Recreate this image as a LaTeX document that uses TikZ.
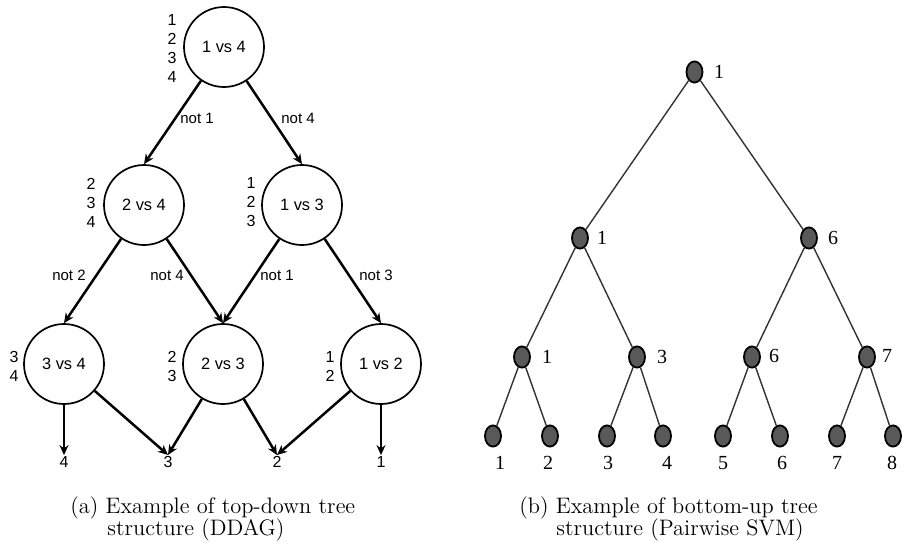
\documentclass[tikz,border=0pt]{standalone}
\usepackage{fontspec}
\newfontfamily\arialf{Liberation Sans}
\newfontfamily\timesf{Liberation Serif}
\usetikzlibrary{arrows.meta,shapes.geometric}
\begin{document}
\begin{tikzpicture}[x=0.5pt,y=-0.5pt,
  vs/.style={circle,draw,line width=0.85pt,minimum size=40pt,inner sep=0pt,font=\arialf\fontsize{8.2}{9.5}\selectfont},
  side/.style={align=center,inner sep=0pt,font=\arialf\fontsize{8}{9.5}\selectfont},
  edgelbl/.style={inner sep=0pt,font=\arialf\fontsize{7.5}{9}\selectfont},
  outn/.style={inner sep=0.5pt,font=\arialf\fontsize{8}{9}\selectfont},
  arr/.style={-{Stealth[length=5pt,width=4.5pt]},line width=1.25pt},
  dot/.style={ellipse,draw,line width=0.9pt,fill=black!65,minimum width=8pt,minimum height=10.6pt,inner sep=0pt},
  tlbl/.style={inner sep=0pt,font=\timesf\fontsize{10}{11}\selectfont},
  tedge/.style={line width=0.7pt,draw=black!80},
  captxt/.style={inner sep=0pt,anchor=west,font=\fontsize{11.2}{13}\selectfont}]
\useasboundingbox (0,0) rectangle (906,547);
% ---------- left: DDAG ----------
\node[vs] (t)  at (224,47)  {1 vs 4};
\node[vs] (m1) at (144,205) {2 vs 4};
\node[vs] (m2) at (302,205) {1 vs 3};
\node[vs] (b1) at (64,364)  {3 vs 4};
\node[vs] (b2) at (223,364) {2 vs 3};
\node[vs] (b3) at (381,364) {1 vs 2};
\node[side] (st)  at (172,48)    {1\\2\\3\\4};
\node[side] (sm1) at (91,202.5)  {2\\3\\4};
\node[side] (sm2) at (251,202.5) {1\\2\\3};
\node[side] (sb1) at (14,366.5)  {3\\4};
\node[side] (sb2) at (172,366.5) {2\\3};
\node[side] (sb3) at (330,366.5) {1\\2};
\node[outn] (o4) at (64,462)  {4};
\node[outn] (o3) at (168,462) {3};
\node[outn] (o2) at (277,462) {2};
\node[outn] (o1) at (381,462) {1};
\draw[arr] (t) -- (m1.north);
\draw[arr] (t) -- (m2.north);
\draw[arr] (m1) -- (b1.north);
\draw[arr] (m1) -- (b2.north);
\draw[arr] (m2) -- (b2.north);
\draw[arr] (m2) -- (b3.north);
\draw[arr] (b1) -- (o4.north);
\draw[arr] (b1) -- (o3.north);
\draw[arr] (b2) -- (o3.north);
\draw[arr] (b2) -- (o2.north);
\draw[arr] (b3) -- (o2.north);
\draw[arr] (b3) -- (o1.north);
\node[edgelbl] (l1) at (197,118) {not 1};
\node[edgelbl] (l2) at (298,118) {not 4};
\node[edgelbl] (l3) at (69,275)  {not 2};
\node[edgelbl] (l4) at (167,275) {not 4};
\node[edgelbl] (l5) at (277,275) {not 1};
\node[edgelbl] (l6) at (376,275) {not 3};
\node[captxt] (ca1) at (70,508)  {(a) Example of top-down tree};
\node[captxt] (ca2) at (107,530) {structure (DDAG)};
% ---------- right: pairwise tree ----------
\node[dot] (r)   at (694.5,72) {};
\node[dot] (a1)  at (580,238) {};
\node[dot] (a2)  at (809,238) {};
\node[dot] (c1)  at (522,357) {};
\node[dot] (c2)  at (637,357) {};
\node[dot] (c3)  at (752,357) {};
\node[dot] (c4)  at (867,357) {};
\node[dot] (d1)  at (493,436) {};
\node[dot] (d2)  at (550,436) {};
\node[dot] (d3)  at (607,436) {};
\node[dot] (d4)  at (663,436) {};
\node[dot] (d5)  at (723,436) {};
\node[dot] (d6)  at (780,436) {};
\node[dot] (d7)  at (837,436) {};
\node[dot] (d8)  at (893,436) {};
\draw[tedge] (r) -- (a1);
\draw[tedge] (r) -- (a2);
\draw[tedge] (a1) -- (c1);
\draw[tedge] (a1) -- (c2);
\draw[tedge] (a2) -- (c3);
\draw[tedge] (a2) -- (c4);
\draw[tedge] (c1) -- (d1);
\draw[tedge] (c1) -- (d2);
\draw[tedge] (c2) -- (d3);
\draw[tedge] (c2) -- (d4);
\draw[tedge] (c3) -- (d5);
\draw[tedge] (c3) -- (d6);
\draw[tedge] (c4) -- (d7);
\draw[tedge] (c4) -- (d8);
\node[tlbl] (lr)  at (719,72)  {1};
\node[tlbl] (la1) at (602,238) {1};
\node[tlbl] (la2) at (833,238) {6};
\node[tlbl] (lc1) at (547,357) {1};
\node[tlbl] (lc2) at (662,357) {3};
\node[tlbl] (lc3) at (774,356) {6};
\node[tlbl] (lc4) at (887,356) {7};
\node[tlbl] (ld1) at (500,463) {1};
\node[tlbl] (ld2) at (548,463) {2};
\node[tlbl] (ld3) at (608,463) {3};
\node[tlbl] (ld4) at (667,463) {4};
\node[tlbl] (ld5) at (723,463) {5};
\node[tlbl] (ld6) at (782,463) {6};
\node[tlbl] (ld7) at (837,463) {7};
\node[tlbl] (ld8) at (892,463) {8};
\node[captxt] (cb1) at (519,508) {(b) Example of bottom-up tree};
\node[captxt] (cb2) at (556,530) {structure (Pairwise SVM)};
\end{tikzpicture}
\end{document}
